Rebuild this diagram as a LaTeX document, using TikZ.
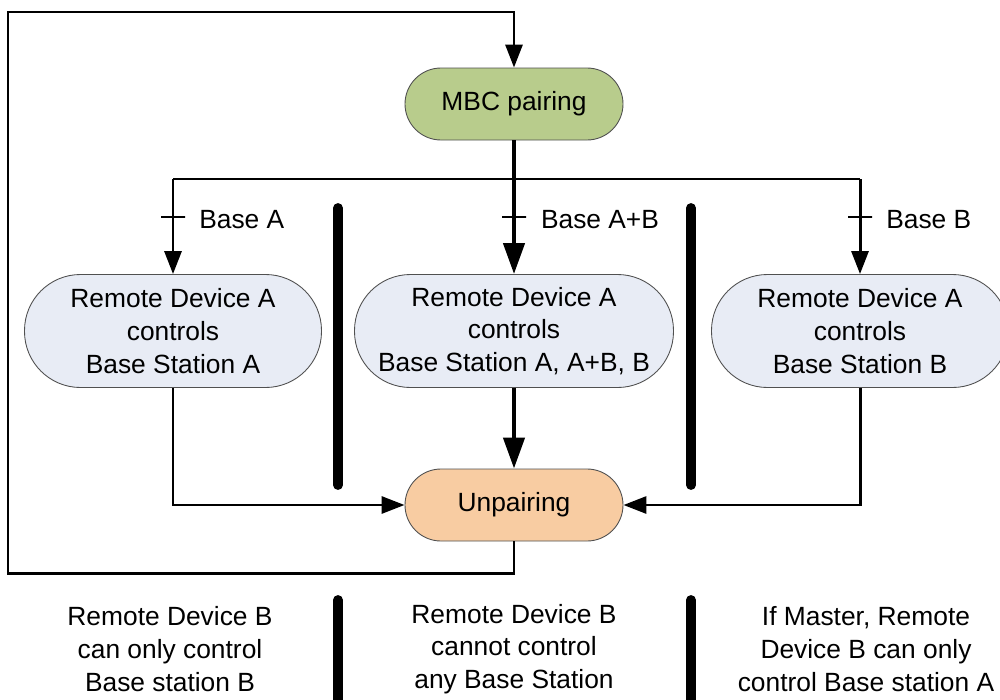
\documentclass[tikz,border=0pt]{standalone}
\usepackage{fontspec}
\setmainfont{Liberation Sans}
\usepackage{xcolor}
\usepackage{tikz}
\usetikzlibrary{arrows.meta,positioning,calc}
\definecolor{pairgreen}{HTML}{B8CC8C}
\definecolor{statebluegray}{HTML}{E8ECF5}
\definecolor{unpairpeach}{HTML}{F8CCA2}
\definecolor{edgegray}{HTML}{505050}

\begin{document}
\begin{tikzpicture}[
    font=\fontsize{15}{18.6}\selectfont,
    flow/.style={draw=edgegray,line width=0.5pt,align=center,inner sep=2pt},
    pill/.style={flow,rounded corners=0.72cm,minimum width=4.36cm,minimum height=1.44cm},
    state/.style={flow,fill=statebluegray,rounded corners=1.12cm,minimum width=5.94cm,minimum height=2.26cm},
    line/.style={line width=1.7pt,draw=black},
    heavy/.style={line width=2.5pt,draw=black},
    arrow/.style={line,-{Triangle[length=0.46cm,width=0.34cm]}},
    heavyarrow/.style={heavy,-{Triangle[length=0.62cm,width=0.42cm]}},
    tick/.style={draw,line width=1.1pt,inner sep=0pt,minimum width=0.48cm,minimum height=0pt},
    lbl/.style={label distance=0.12cm,yshift=-0.06cm},
    bar/.style={line width=5.6pt,line cap=round},
    note/.style={align=center}
  ]
    \clip (0,0) rectangle (20,-14);
    \useasboundingbox (0,0) rectangle (20,-14);

    \node[pill,fill=pairgreen] (mbc) at (10.28,-2.08) {MBC pairing};
    \node[state] (ra) at (3.46,-6.62) {Remote Device A\\controls\\Base Station A};
    \node[state,minimum width=6.38cm] (rab) at (10.28,-6.62) {Remote Device A\\controls\\Base Station A, A+B, B};
    \node[state] (rb) at (17.2,-6.62) {Remote Device A\\controls\\Base Station B};
    \node[pill,fill=unpairpeach] (unp) at (10.28,-10.1) {Unpairing};

    \coordinate (split) at (10.28,-3.58);
    \coordinate (lowleft) at (0.16,-11.46);
    \coordinate (topleft) at (0.16,-0.24);

    \draw[heavy] (mbc.south) -- (split);
    \draw[line] (split -| ra.north) -- (split -| rb.north);
    \draw[arrow] (split -| ra.north) -- node[pos=0.4,tick,label={[lbl]right:Base A}] {} (ra.north);
    \draw[heavyarrow] (split) -- node[pos=0.4,tick,label={[lbl]right:Base A+B}] {} (rab.north);
    \draw[arrow] (split -| rb.north) -- node[pos=0.4,tick,label={[lbl]right:Base B}] {} (rb.north);

    \draw[arrow] (ra.south) |- (unp.west);
    \draw[heavyarrow] (rab.south) -- (unp.north);
    \draw[arrow] (rb.south) |- (unp.east);
    \draw[arrow] (unp.south) |- (lowleft) -- (topleft) -| (mbc.north);

    \draw[bar] (6.76,-4.16) -- (6.76,-9.7);
    \draw[bar] (13.82,-4.16) -- (13.82,-9.7);
    \draw[bar] (6.76,-12.0) -- (6.76,-14.4);
    \draw[bar] (13.82,-12.0) -- (13.82,-14.4);

    \node[note] (noteleft) at (3.4,-12.98) {Remote Device B\\can only control\\Base station B};
    \node[note] (notemid) at (10.28,-12.98) {Remote Device B\\cannot control\\any Base Station};
    \node[note] (noteright) at (17.32,-12.98) {If Master, Remote\\Device B can only\\control Base station A};
  \end{tikzpicture}
\end{document}
